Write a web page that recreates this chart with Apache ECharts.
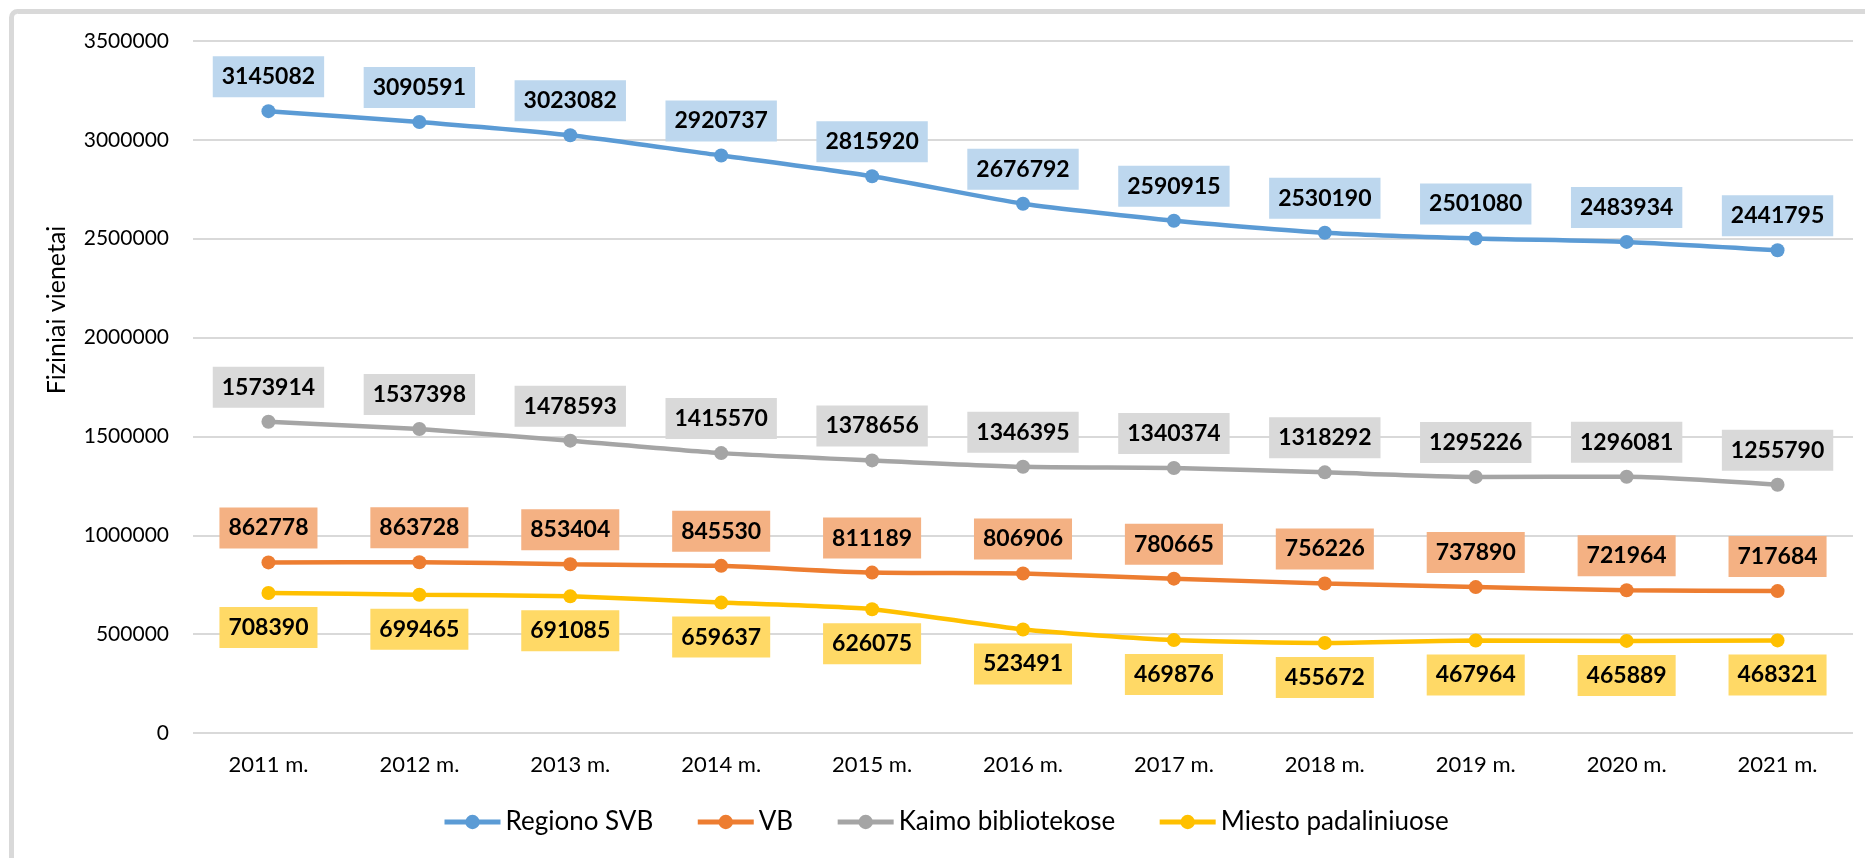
<!DOCTYPE html>
<html>
<head>
<meta charset="UTF-8">
<title></title>
<script src="https://cdn.jsdelivr.net/npm/echarts@6/dist/echarts.min.js"></script>
<style>
  html, body { margin: 0; padding: 0; background: #fff; }
</style>
</head>
<body>
<div id="main" style="width: 1865px; height: 858px;"></div>
<script type="text/javascript">
// metai
var years = ['2011 m.', '2012 m.', '2013 m.', '2014 m.', '2015 m.', '2016 m.', '2017 m.', '2018 m.', '2019 m.', '2020 m.', '2021 m.'];

var regionoSVB = [3145082, 3090591, 3023082, 2920737, 2815920, 2676792, 2590915, 2530190, 2501080, 2483934, 2441795];
var vb = [862778, 863728, 853404, 845530, 811189, 806906, 780665, 756226, 737890, 721964, 717684];
var kaimo = [1573914, 1537398, 1478593, 1415570, 1378656, 1346395, 1340374, 1318292, 1295226, 1296081, 1255790];
var miesto = [708390, 699465, 691085, 659637, 626075, 523491, 469876, 455672, 467964, 465889, 468321];

var seriesNames = ['Regiono SVB', 'VB', 'Kaimo bibliotekose', 'Miesto padaliniuose'];

var font = 'Lato';

function makeSeries(name, data, color, labelBg, pos) {
  return {
    name: name,
    type: 'line',
    data: data,
    smooth: 0.2,
    symbol: 'circle',
    symbolSize: 14,
    lineStyle: { color: color, width: 4.5 },
    itemStyle: { color: color },
    label: {
      show: true,
      position: pos,
      distance: 7,
      fontFamily: font,
      fontWeight: 'bold',
      fontSize: 23,
      lineHeight: 25,
      color: '#000',
      backgroundColor: labelBg,
      padding: [8, 9, 8, 9]
    },
    emphasis: { disabled: true }
  };
}

var myChart = echarts.init(document.getElementById('main'));
var option = {
  animation: false,
  backgroundColor: '#fff',
  graphic: [
    {
      type: 'rect',
      shape: { x: 11.5, y: 11.5, width: 1900, height: 900, r: 6 },
      style: { fill: 'none', stroke: '#d9d9d9', lineWidth: 5 },
      silent: true
    },
    {
      type: 'text',
      x: 57,
      y: 310,
      rotation: Math.PI / 2,
      style: {
        text: 'Fiziniai vienetai',
        fontFamily: font,
        fontSize: 25,
        fill: '#000',
        align: 'center',
        verticalAlign: 'middle'
      },
      silent: true
    }
  ],
  legend: {
    data: seriesNames,
    top: 804,
    left: 437,
    itemWidth: 56,
    itemHeight: 18,
    itemGap: 42,
    lineStyle: { width: 5 },
    textStyle: { fontFamily: font, fontSize: 26, color: '#000' }
  },
  grid: {
    left: 193,
    right: 12,
    top: 41,
    bottom: 125
  },
  xAxis: {
    type: 'category',
    data: years,
    boundaryGap: true,
    axisLine: { show: false },
    axisTick: { show: false },
    axisLabel: { fontFamily: font, fontSize: 22, color: '#000', margin: 21 }
  },
  yAxis: {
    type: 'value',
    min: 0,
    max: 3500000,
    interval: 500000,
    axisLine: { show: false },
    axisTick: { show: false },
    axisLabel: {
      fontFamily: font, fontSize: 21, color: '#000', margin: 24,
      formatter: function (v) { return String(v); }
    },
    splitLine: { lineStyle: { color: '#d9d9d9', width: 2 } }
  },
  series: [
    makeSeries(seriesNames[0], regionoSVB, '#5b9bd5', '#bdd7ee', 'top'),
    makeSeries(seriesNames[1], vb, '#ed7d31', '#f4b183', 'top'),
    makeSeries(seriesNames[2], kaimo, '#a5a5a5', '#d9d9d9', 'top'),
    makeSeries(seriesNames[3], miesto, '#ffc000', '#ffd966', 'bottom')
  ]
};
myChart.setOption(option);
</script>
</body>
</html>
